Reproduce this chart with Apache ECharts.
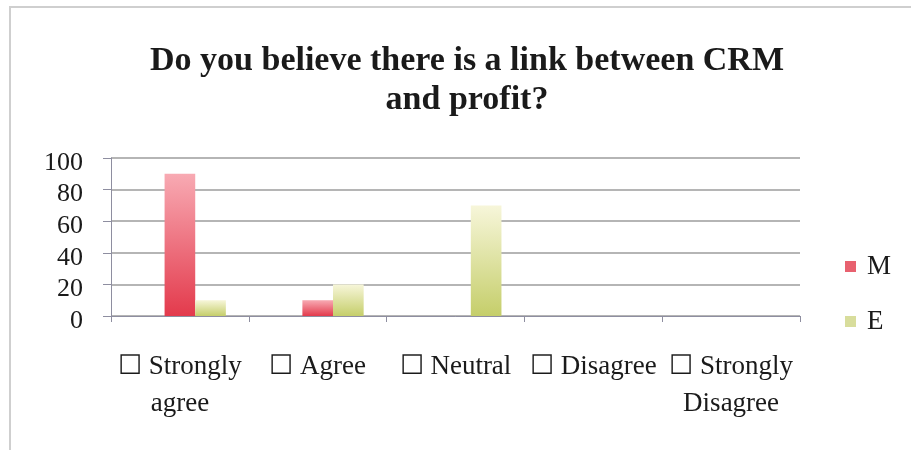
<!DOCTYPE html>
<html>
<head>
<meta charset="utf-8">
<style>
  html, body { margin: 0; padding: 0; background: #ffffff; }
  #chart { width: 911px; height: 450px; }
</style>
<script src="https://cdn.jsdelivr.net/npm/echarts@6/dist/echarts.min.js"></script>
</head>
<body>
<div id="chart"></div>
<script>
// Survey answers: share of respondents per answer, for groups M and E
const categories = ['Strongly agree', 'Agree', 'Neutral', 'Disagree', 'Strongly Disagree'];
const categoryLabels = ['\u2610 Strongly\nagree', '\u2610 Agree', '\u2610 Neutral', '\u2610 Disagree', '\u2610 Strongly\nDisagree'];
const valuesM = [90, 10, 0, 0, 0];
const valuesE = [10, 20, 70, 0, 0];
// empty leading slot kept from the source workbook's third column
const valuesEmpty = [null, null, null, null, null];
const yTicks = { min: 0, max: 100, interval: 20 };

const serif = '"Liberation Serif", "DejaVu Serif", serif';

const gradM = new echarts.graphic.LinearGradient(0, 0, 0, 1, [
  { offset: 0, color: '#f8aab3' },
  { offset: 1, color: '#e33a4c' }
]);
const gradE = new echarts.graphic.LinearGradient(0, 0, 0, 1, [
  { offset: 0, color: '#f7f6da' },
  { offset: 1, color: '#c5ce6a' }
]);

const chart = echarts.init(document.getElementById('chart'), null, { renderer: 'canvas' });

chart.setOption({
  animation: false,
  backgroundColor: '#ffffff',
  graphic: [{
    type: 'rect',
    shape: { x: 10, y: 7, width: 940, height: 480 },
    style: { fill: 'none', stroke: '#cfcfcf', lineWidth: 2 },
    silent: true
  }],
  title: {
    text: 'Do you believe there is a link between CRM\nand profit?',
    left: 462,
    top: 37,
    textAlign: 'center',
    textStyle: {
      fontFamily: serif,
      fontWeight: 'bold',
      fontSize: 34,
      lineHeight: 39,
      color: '#1a1a1a'
    }
  },
  legend: {
    orient: 'vertical',
    left: 840,
    top: 248,
    itemWidth: 11,
    itemHeight: 11,
    itemGap: 28,
    icon: 'rect',
    data: [
      { name: 'M', itemStyle: { color: '#e8616f' } },
      { name: 'E', itemStyle: { color: '#d8dd9c' } }
    ],
    textStyle: {
      fontFamily: serif,
      fontSize: 27,
      color: '#1a1a1a',
      padding: [0, 0, 0, 6]
    }
  },
  grid: {
    left: 111,
    right: 111,
    top: 158,
    bottom: 134,
    containLabel: false
  },
  xAxis: {
    type: 'category',
    data: categories,
    axisLine: { show: true, lineStyle: { color: '#8e8ea0', width: 1 } },
    axisTick: { show: true, alignWithLabel: false, length: 6, lineStyle: { color: '#8e8ea0' } },
    axisLabel: {
      interval: 0,
      margin: 32,
      fontFamily: serif,
      fontSize: 27,
      lineHeight: 37,
      color: '#1a1a1a',
      formatter: function (value, idx) { return categoryLabels[idx]; }
    },
    splitLine: { show: false }
  },
  yAxis: {
    type: 'value',
    min: yTicks.min,
    max: yTicks.max,
    interval: yTicks.interval,
    axisLine: { show: true, lineStyle: { color: '#8e8ea0', width: 1 } },
    axisTick: { show: true, length: 8, lineStyle: { color: '#8e8ea0' } },
    axisLabel: {
      margin: 28,
      color: '#1a1a1a',
      formatter: function (v) { return '{v|' + v + '}'; },
      rich: {
        v: {
          fontFamily: serif,
          fontSize: 26,
          color: '#1a1a1a',
          padding: [10, 0, 0, 0]
        }
      }
    },
    splitLine: { show: true, lineStyle: { color: '#9c9c9c', width: 1.5 } }
  },
  series: [
    {
      name: 'blank',
      type: 'bar',
      data: valuesEmpty,
      barGap: '0%',
      barCategoryGap: '33.3%',
      silent: true
    },
    {
      name: 'M',
      type: 'bar',
      data: valuesM,
      barGap: '0%',
      barCategoryGap: '33.3%',
      itemStyle: { color: gradM }
    },
    {
      name: 'E',
      type: 'bar',
      data: valuesE,
      barGap: '0%',
      barCategoryGap: '33.3%',
      itemStyle: { color: gradE }
    }
  ]
});
</script>
</body>
</html>
